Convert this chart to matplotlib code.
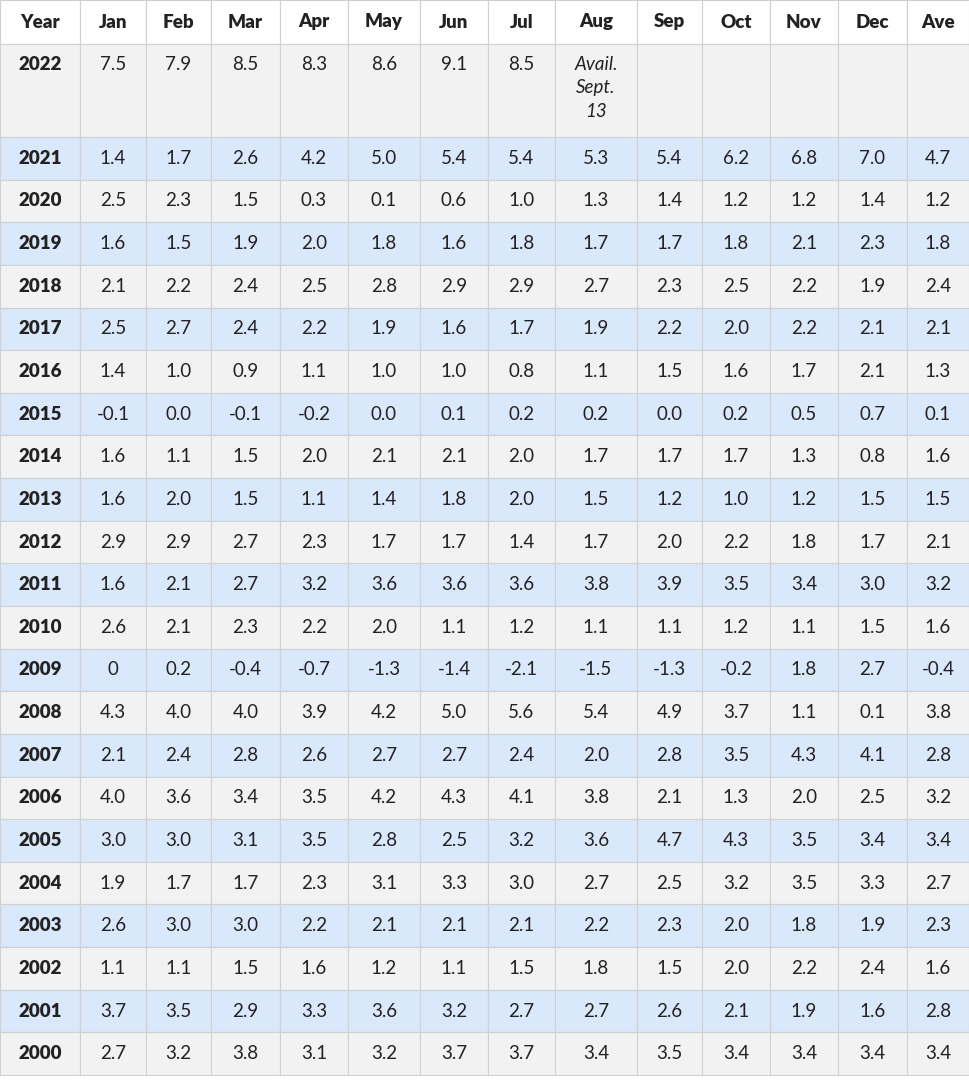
import matplotlib
matplotlib.use("Agg")
import matplotlib.pyplot as plt
from matplotlib.patches import Rectangle

columns = ["Year","Jan","Feb","Mar","Apr","May","Jun","Jul","Aug","Sep","Oct","Nov","Dec","Ave"]
years = ["2022","2021","2020","2019","2018","2017","2016","2015","2014","2013","2012","2011",
         "2010","2009","2008","2007","2006","2005","2004","2003","2002","2001","2000"]
values = [
 ["7.5","7.9","8.5","8.3","8.6","9.1","8.5","Avail.\nSept.\n13","","","","",""],
 ["1.4","1.7","2.6","4.2","5.0","5.4","5.4","5.3","5.4","6.2","6.8","7.0","4.7"],
 ["2.5","2.3","1.5","0.3","0.1","0.6","1.0","1.3","1.4","1.2","1.2","1.4","1.2"],
 ["1.6","1.5","1.9","2.0","1.8","1.6","1.8","1.7","1.7","1.8","2.1","2.3","1.8"],
 ["2.1","2.2","2.4","2.5","2.8","2.9","2.9","2.7","2.3","2.5","2.2","1.9","2.4"],
 ["2.5","2.7","2.4","2.2","1.9","1.6","1.7","1.9","2.2","2.0","2.2","2.1","2.1"],
 ["1.4","1.0","0.9","1.1","1.0","1.0","0.8","1.1","1.5","1.6","1.7","2.1","1.3"],
 ["-0.1","0.0","-0.1","-0.2","0.0","0.1","0.2","0.2","0.0","0.2","0.5","0.7","0.1"],
 ["1.6","1.1","1.5","2.0","2.1","2.1","2.0","1.7","1.7","1.7","1.3","0.8","1.6"],
 ["1.6","2.0","1.5","1.1","1.4","1.8","2.0","1.5","1.2","1.0","1.2","1.5","1.5"],
 ["2.9","2.9","2.7","2.3","1.7","1.7","1.4","1.7","2.0","2.2","1.8","1.7","2.1"],
 ["1.6","2.1","2.7","3.2","3.6","3.6","3.6","3.8","3.9","3.5","3.4","3.0","3.2"],
 ["2.6","2.1","2.3","2.2","2.0","1.1","1.2","1.1","1.1","1.2","1.1","1.5","1.6"],
 ["0","0.2","-0.4","-0.7","-1.3","-1.4","-2.1","-1.5","-1.3","-0.2","1.8","2.7","-0.4"],
 ["4.3","4.0","4.0","3.9","4.2","5.0","5.6","5.4","4.9","3.7","1.1","0.1","3.8"],
 ["2.1","2.4","2.8","2.6","2.7","2.7","2.4","2.0","2.8","3.5","4.3","4.1","2.8"],
 ["4.0","3.6","3.4","3.5","4.2","4.3","4.1","3.8","2.1","1.3","2.0","2.5","3.2"],
 ["3.0","3.0","3.1","3.5","2.8","2.5","3.2","3.6","4.7","4.3","3.5","3.4","3.4"],
 ["1.9","1.7","1.7","2.3","3.1","3.3","3.0","2.7","2.5","3.2","3.5","3.3","2.7"],
 ["2.6","3.0","3.0","2.2","2.1","2.1","2.1","2.2","2.3","2.0","1.8","1.9","2.3"],
 ["1.1","1.1","1.5","1.6","1.2","1.1","1.5","1.8","1.5","2.0","2.2","2.4","1.6"],
 ["3.7","3.5","2.9","3.3","3.6","3.2","2.7","2.7","2.6","2.1","1.9","1.6","2.8"],
 ["2.7","3.2","3.8","3.1","3.2","3.7","3.7","3.4","3.5","3.4","3.4","3.4","3.4"],
]

col_edges = [0,80,146,211,280,348,420,488,555,637,702,770,838,907,969]
W, H = 969, 1082
header_h = 44
first_h = 93
row_h = (1075 - header_h - first_h) / (len(years) - 1)

fig = plt.figure(figsize=(W/100, H/100), dpi=100)
ax = fig.add_axes([0, 0, 1, 1])
ax.set_xlim(0, W); ax.set_ylim(H, 0); ax.axis("off")
font = "Lato"
txt = "#222222"
grid = "#d0d0d0"
fs = 13.5

for j, c in enumerate(columns):
    x0, x1 = col_edges[j], col_edges[j+1]
    ax.add_patch(Rectangle((x0, 0), x1-x0, header_h, fc="white", ec=grid, lw=0.8))
    ax.text((x0+x1)/2, header_h/2, c, ha="center", va="center", fontsize=fs,
            fontweight="heavy", color=txt, family=font)

y = header_h
for i, yr in enumerate(years):
    h = first_h if i == 0 else row_h
    bg = "#f2f2f2" if i % 2 == 0 else "#dae8fc"
    cells = [yr] + values[i]
    for j, v in enumerate(cells):
        x0, x1 = col_edges[j], col_edges[j+1]
        ax.add_patch(Rectangle((x0, y), x1-x0, h, fc=bg, ec=grid, lw=0.8))
        cx = (x0+x1)/2
        wt = "heavy" if j == 0 else "normal"
        if i == 0:
            style = "italic" if "\n" in v else "normal"
            ax.text(cx, y + 12, v, ha="center", va="top", fontsize=fs, color=txt,
                    family=font, fontweight=wt, fontstyle=style, linespacing=1.45)
        else:
            ax.text(cx, y + h/2, v, ha="center", va="center", fontsize=fs, color=txt,
                    family=font, fontweight=wt)
    y += h

fig.savefig("out.png", dpi=100, facecolor="white")
